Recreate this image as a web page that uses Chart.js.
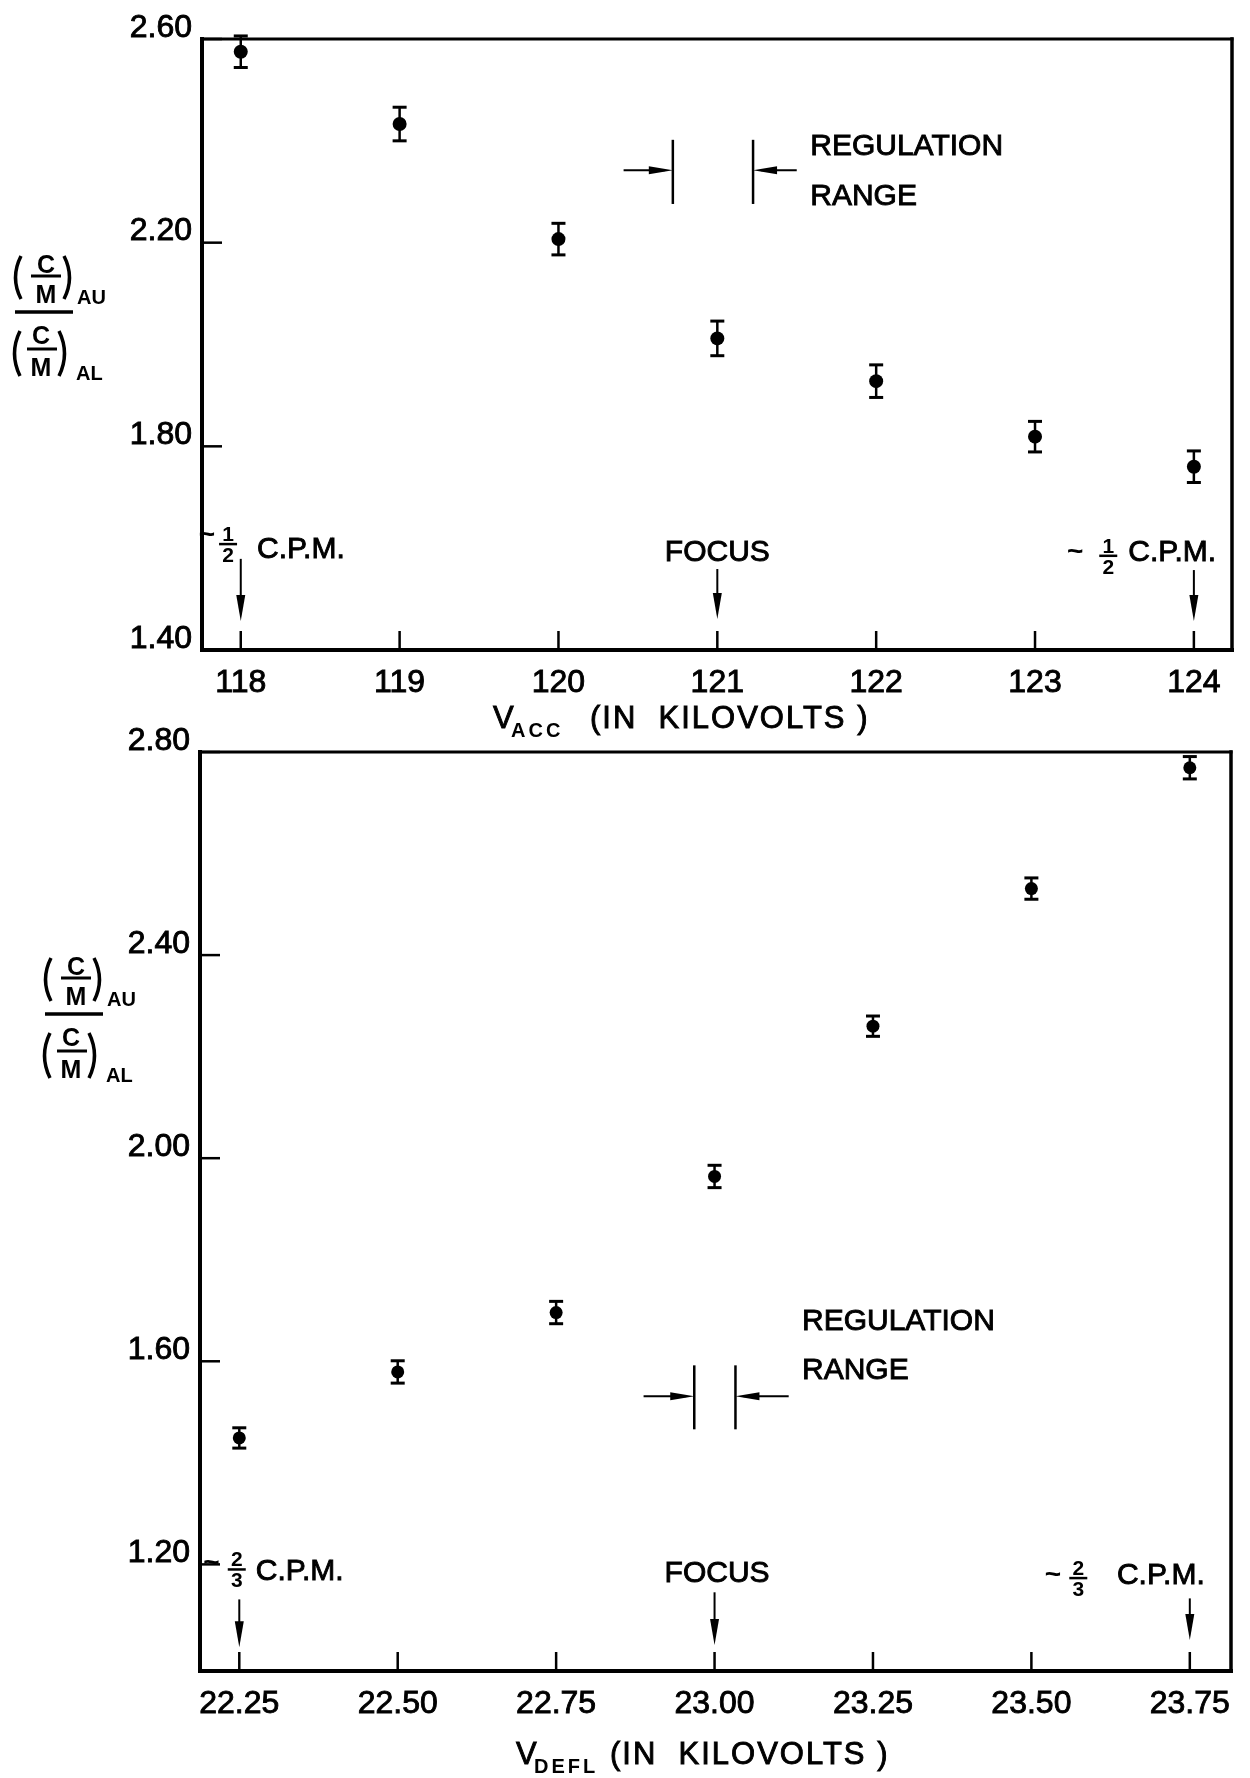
<!DOCTYPE html>
<html>
<head>
<meta charset="utf-8">
<script src="https://cdn.jsdelivr.net/npm/chart.js@4.4.1/dist/chart.umd.min.js"></script>
<style>
  html, body { margin: 0; padding: 0; background: #fff; }
  body { width: 1250px; height: 1778px; position: relative; overflow: hidden; }
  canvas { position: absolute; left: 0; }
  #acc-chart { top: 0; }
  #defl-chart { top: 700px; }
</style>
</head>
<body>
<canvas id="acc-chart" width="1250" height="740"></canvas>
<canvas id="defl-chart" width="1250" height="1078"></canvas>
<script>
const FONT = '"Liberation Sans", Arial, sans-serif';

// upper panel : ratio against accelerating voltage (kV)
const accVoltage = [118, 119, 120, 121, 122, 123, 124];
const accRatio = [2.575, 2.433, 2.207, 2.012, 1.928, 1.819, 1.760];
const accError = [0.031, 0.033, 0.031, 0.034, 0.032, 0.030, 0.031];
const accXTicks = [118, 119, 120, 121, 122, 123, 124];
const accYTicks = [1.40, 1.80, 2.20, 2.60];

// lower panel : ratio against deflecting voltage (kV)
const deflVoltage = [22.25, 22.50, 22.75, 23.00, 23.25, 23.50, 23.75];
const deflRatio = [1.449, 1.579, 1.696, 1.964, 2.260, 2.531, 2.769];
const deflError = [0.020, 0.022, 0.022, 0.022, 0.020, 0.021, 0.022];
const deflXTicks = [22.25, 22.50, 22.75, 23.00, 23.25, 23.50, 23.75];
const deflYTicks = [1.20, 1.60, 2.00, 2.40, 2.80];

// arrows down to the axis : [x, from, to]
const accArrows = [[118, 1.579, 1.457], [121, 1.559, 1.461], [124, 1.557, 1.457]];
const deflArrows = [[22.25, 1.131, 1.037], [23.00, 1.145, 1.041], [23.75, 1.133, 1.051]];

// regulation range : [left bar, right bar, low, high, arrow y, left arrow start, right arrow start]
const accRegulation = [120.72, 121.225, 2.276, 2.402, 2.342, 120.41, 121.50];
const deflRegulation = [22.968, 23.033, 1.466, 1.592, 1.531, 22.888, 23.117];

// notes : [text, x, y, align]
const accNotes = [
    ['REGULATION', 121.585, 2.388, 'left'],
    ['RANGE', 121.585, 2.290, 'left'],
    ['FOCUS', 121.0, 1.592, 'center'],
    ['C.P.M.', 118.102, 1.596, 'left'],
    ['C.P.M.', 123.587, 1.592, 'left']
];
const deflNotes = [
    ['REGULATION', 23.138, 1.677, 'left'],
    ['RANGE', 23.138, 1.582, 'left'],
    ['FOCUS', 23.004, 1.181, 'center'],
    ['C.P.M.', 22.276, 1.185, 'left'],
    ['C.P.M.', 23.635, 1.177, 'left']
];
// "~ n/d" in front of C.P.M. : [num, den, x, y, tilde x, tilde y]
const accFractions = [['1', '2', 117.92, 1.608, 117.787, 1.626], ['1', '2', 123.461, 1.585, 123.253, 1.592]];
const deflFractions = [['2', '3', 22.246, 1.190, 22.206, 1.202], ['2', '3', 23.574, 1.173, 23.534, 1.178]];

function line(ctx, x1, y1, x2, y2, w) {
    ctx.lineWidth = w;
    ctx.beginPath();
    ctx.moveTo(x1, y1);
    ctx.lineTo(x2, y2);
    ctx.stroke();
}

// text a little heavier than the regular face, like the lettering
function heavyText(ctx, s, x, y, w) {
    ctx.fillText(s, x, y);
    ctx.lineWidth = w || 0.9;
    ctx.strokeText(s, x, y);
}

function arrowDown(ctx, x, y1, y2) {
    line(ctx, x, y1, x, y2 - 10, 2);
    ctx.beginPath();
    ctx.moveTo(x - 4.5, y2 - 26);
    ctx.lineTo(x + 4.5, y2 - 26);
    ctx.lineTo(x, y2);
    ctx.closePath();
    ctx.fill();
}

function arrowSide(ctx, x1, x2, y) {
    const dir = x2 > x1 ? 1 : -1;
    line(ctx, x1, y, x2 - dir * 8, y, 2);
    ctx.beginPath();
    ctx.moveTo(x2 - dir * 24, y - 4);
    ctx.lineTo(x2 - dir * 24, y + 4);
    ctx.lineTo(x2, y);
    ctx.closePath();
    ctx.fill();
}

function paren(ctx, x1, x2, yt, yb, open) {
    const xe = open ? x2 : x1;
    const xm = open ? x1 - 3 : x2 + 3;
    ctx.lineWidth = 3.5;
    ctx.beginPath();
    ctx.moveTo(xe, yt);
    ctx.quadraticCurveTo(xm, (yt + yb) / 2, xe, yb);
    ctx.stroke();
}

// (C/M)_AU over (C/M)_AL
function drawRatioLabel(ctx, x0, y0) {
    line(ctx, x0, y0, x0 + 58, y0, 3.5);
    ctx.textAlign = 'center';
    ctx.textBaseline = 'middle';
    ctx.font = 'bold 25px ' + FONT;
    // numerator
    paren(ctx, x0 - 2, x0 + 6, y0 - 56, y0 - 13, true);
    ctx.fillText('C', x0 + 31, y0 - 46);
    line(ctx, x0 + 16, y0 - 36, x0 + 46, y0 - 36, 3);
    ctx.fillText('M', x0 + 31, y0 - 16);
    paren(ctx, x0 + 49, x0 + 57, y0 - 56, y0 - 13, false);
    // denominator
    paren(ctx, x0 - 3, x0 + 5, y0 + 19, y0 + 64, true);
    ctx.fillText('C', x0 + 26, y0 + 25);
    line(ctx, x0 + 12, y0 + 37, x0 + 42, y0 + 37, 3);
    ctx.fillText('M', x0 + 26, y0 + 57);
    paren(ctx, x0 + 44, x0 + 52, y0 + 19, y0 + 64, false);
    ctx.textAlign = 'left';
    ctx.textBaseline = 'alphabetic';
    ctx.font = 'bold 20px ' + FONT;
    ctx.fillText('AU', x0 + 62, y0 - 8);
    ctx.fillText('AL', x0 + 61, y0 + 68);
}

function drawAxisTitle(ctx, t) {
    ctx.textAlign = 'left';
    ctx.textBaseline = 'alphabetic';
    ctx.font = '31px ' + FONT;
    heavyText(ctx, 'V', t.x, t.base);
    ctx.font = 'bold 20px ' + FONT;
    ctx.letterSpacing = '3px';
    ctx.fillText(t.sub, t.x + 18, t.base + 9);
    ctx.font = '31px ' + FONT;
    ctx.letterSpacing = '2px';
    heavyText(ctx, '(IN  KILOVOLTS )', t.restX, t.base);
    ctx.letterSpacing = '0px';
}

// frame with inward ticks
const framePlugin = {
    id: 'frame',
    afterDraw(chart) {
        const ctx = chart.ctx;
        const { left, right, top, bottom } = chart.chartArea;
        const x = chart.scales.x;
        const y = chart.scales.y;
        ctx.save();
        ctx.strokeStyle = '#000';
        ctx.lineCap = 'square';
        line(ctx, left, top, right, top, 3);
        line(ctx, right, top, right, bottom, 3.5);
        line(ctx, left, top, left, bottom, 4);
        line(ctx, left, bottom, right, bottom, 4);
        ctx.lineCap = 'butt';
        x.ticks.forEach(t => {
            const px = x.getPixelForValue(t.value);
            line(ctx, px, bottom, px, bottom - 19, 2.5);
        });
        y.ticks.forEach(t => {
            const py = y.getPixelForValue(t.value);
            line(ctx, left, py, left + 20, py, 2.5);
        });
        ctx.restore();
    }
};

function errorBarPlugin(xs, ys, errs) {
    return {
        id: 'errorBars',
        beforeDatasetsDraw(chart) {
            const ctx = chart.ctx;
            const x = chart.scales.x;
            const y = chart.scales.y;
            ctx.save();
            ctx.strokeStyle = '#000';
            xs.forEach((v, i) => {
                const px = x.getPixelForValue(v);
                const hi = y.getPixelForValue(ys[i] + errs[i]);
                const lo = y.getPixelForValue(ys[i] - errs[i]);
                line(ctx, px, hi, px, lo, 2.5);
                line(ctx, px - 7, hi, px + 7, hi, 3);
                line(ctx, px - 7, lo, px + 7, lo, 3);
            });
            ctx.restore();
        }
    };
}

function notesPlugin(n) {
    return {
        id: 'notes',
        afterDraw(chart) {
            const ctx = chart.ctx;
            const x = chart.scales.x;
            const y = chart.scales.y;
            ctx.save();
            ctx.strokeStyle = '#000';
            ctx.fillStyle = '#000';
            n.arrows.forEach(a => {
                arrowDown(ctx, x.getPixelForValue(a[0]), y.getPixelForValue(a[1]), y.getPixelForValue(a[2]));
            });
            const r = n.regulation;
            const xl = x.getPixelForValue(r[0]);
            const xr = x.getPixelForValue(r[1]);
            const lo = y.getPixelForValue(r[2]);
            const hi = y.getPixelForValue(r[3]);
            const ay = y.getPixelForValue(r[4]);
            line(ctx, xl, hi, xl, lo, 2.5);
            line(ctx, xr, hi, xr, lo, 2.5);
            arrowSide(ctx, x.getPixelForValue(r[5]), xl, ay);
            arrowSide(ctx, x.getPixelForValue(r[6]), xr, ay);

            ctx.font = '30px ' + FONT;
            ctx.textBaseline = 'middle';
            n.notes.forEach(t => {
                ctx.textAlign = t[3];
                heavyText(ctx, t[0], x.getPixelForValue(t[1]), y.getPixelForValue(t[2]));
            });
            n.fractions.forEach(f => {
                const cx = x.getPixelForValue(f[2]);
                const cy = y.getPixelForValue(f[3]);
                ctx.font = 'bold 21px ' + FONT;
                ctx.textAlign = 'center';
                ctx.textBaseline = 'alphabetic';
                ctx.fillText(f[0], cx, cy - 3);
                line(ctx, cx - 9, cy, cx + 9, cy, 2.5);
                ctx.fillText(f[1], cx, cy + 18);
                ctx.font = 'bold 28px ' + FONT;
                ctx.textBaseline = 'middle';
                ctx.fillText('~', x.getPixelForValue(f[4]), y.getPixelForValue(f[5]));
            });
            drawRatioLabel(ctx, n.ratio[0], n.ratio[1]);
            drawAxisTitle(ctx, n.title);
            ctx.restore();
        }
    };
}

function makeChart(id, p) {
    const canvas = document.getElementById(id);
    const W = canvas.width;
    const H = canvas.height;
    const tickFont = { family: FONT, size: 32 };
    return new Chart(canvas, {
        type: 'scatter',
        data: {
            datasets: [{
                data: p.xs.map((v, i) => ({ x: v, y: p.ys[i] })),
                pointRadius: p.radius,
                pointBackgroundColor: '#000',
                pointBorderWidth: 0,
                showLine: false
            }]
        },
        options: {
            responsive: false,
            animation: false,
            devicePixelRatio: 1,
            layout: { padding: { left: 0, top: p.area.top, right: W - p.area.right, bottom: 0 } },
            plugins: { legend: { display: false }, tooltip: { enabled: false } },
            scales: {
                x: {
                    type: 'linear',
                    min: p.xMin,
                    max: p.xMax,
                    grid: { display: false, drawTicks: false },
                    border: { display: false },
                    afterBuildTicks: s => { s.ticks = p.xTicks.map(v => ({ value: v })); },
                    afterFit: s => { s.height = H - p.area.bottom; },
                    ticks: {
                        autoSkip: false,
                        maxRotation: 0,
                        padding: p.xPad,
                        color: '#000',
                        textStrokeColor: '#000',
                        textStrokeWidth: 0.9,
                        font: tickFont,
                        callback: p.xLabel
                    }
                },
                y: {
                    type: 'linear',
                    min: p.yMin,
                    max: p.yMax,
                    grid: { display: false, drawTicks: false },
                    border: { display: false },
                    afterBuildTicks: s => { s.ticks = p.yTicks.map(v => ({ value: v })); },
                    afterFit: s => { s.width = p.area.left; },
                    ticks: {
                        autoSkip: false,
                        padding: 10,
                        labelOffset: -11,
                        color: '#000',
                        textStrokeColor: '#000',
                        textStrokeWidth: 0.9,
                        font: tickFont,
                        callback: v => v.toFixed(2)
                    }
                }
            }
        },
        plugins: [framePlugin, errorBarPlugin(p.xs, p.ys, p.errs), notesPlugin(p.notes)]
    });
}

makeChart('acc-chart', {
    xs: accVoltage, ys: accRatio, errs: accError,
    xTicks: accXTicks, yTicks: accYTicks,
    xMin: 117.756, xMax: 124.24, yMin: 1.40, yMax: 2.60,
    area: { left: 202, top: 39, right: 1232, bottom: 650 },
    radius: 7, xPad: 14,
    xLabel: v => String(v),
    notes: {
        arrows: accArrows, regulation: accRegulation, notes: accNotes, fractions: accFractions,
        ratio: [15, 312],
        title: { x: 493, base: 728, sub: 'ACC', restX: 590 }
    }
});

makeChart('defl-chart', {
    xs: deflVoltage, ys: deflRatio, errs: deflError,
    xTicks: deflXTicks, yTicks: deflYTicks,
    xMin: 22.188, xMax: 23.815, yMin: 0.99, yMax: 2.80,
    area: { left: 200, top: 52, right: 1231, bottom: 971 },
    radius: 6.5, xPad: 14,
    xLabel: v => v.toFixed(2),
    notes: {
        arrows: deflArrows, regulation: deflRegulation, notes: deflNotes, fractions: deflFractions,
        ratio: [45, 314],
        title: { x: 516, base: 1064, sub: 'DEFL', restX: 610 }
    }
});
</script>
</body>
</html>
